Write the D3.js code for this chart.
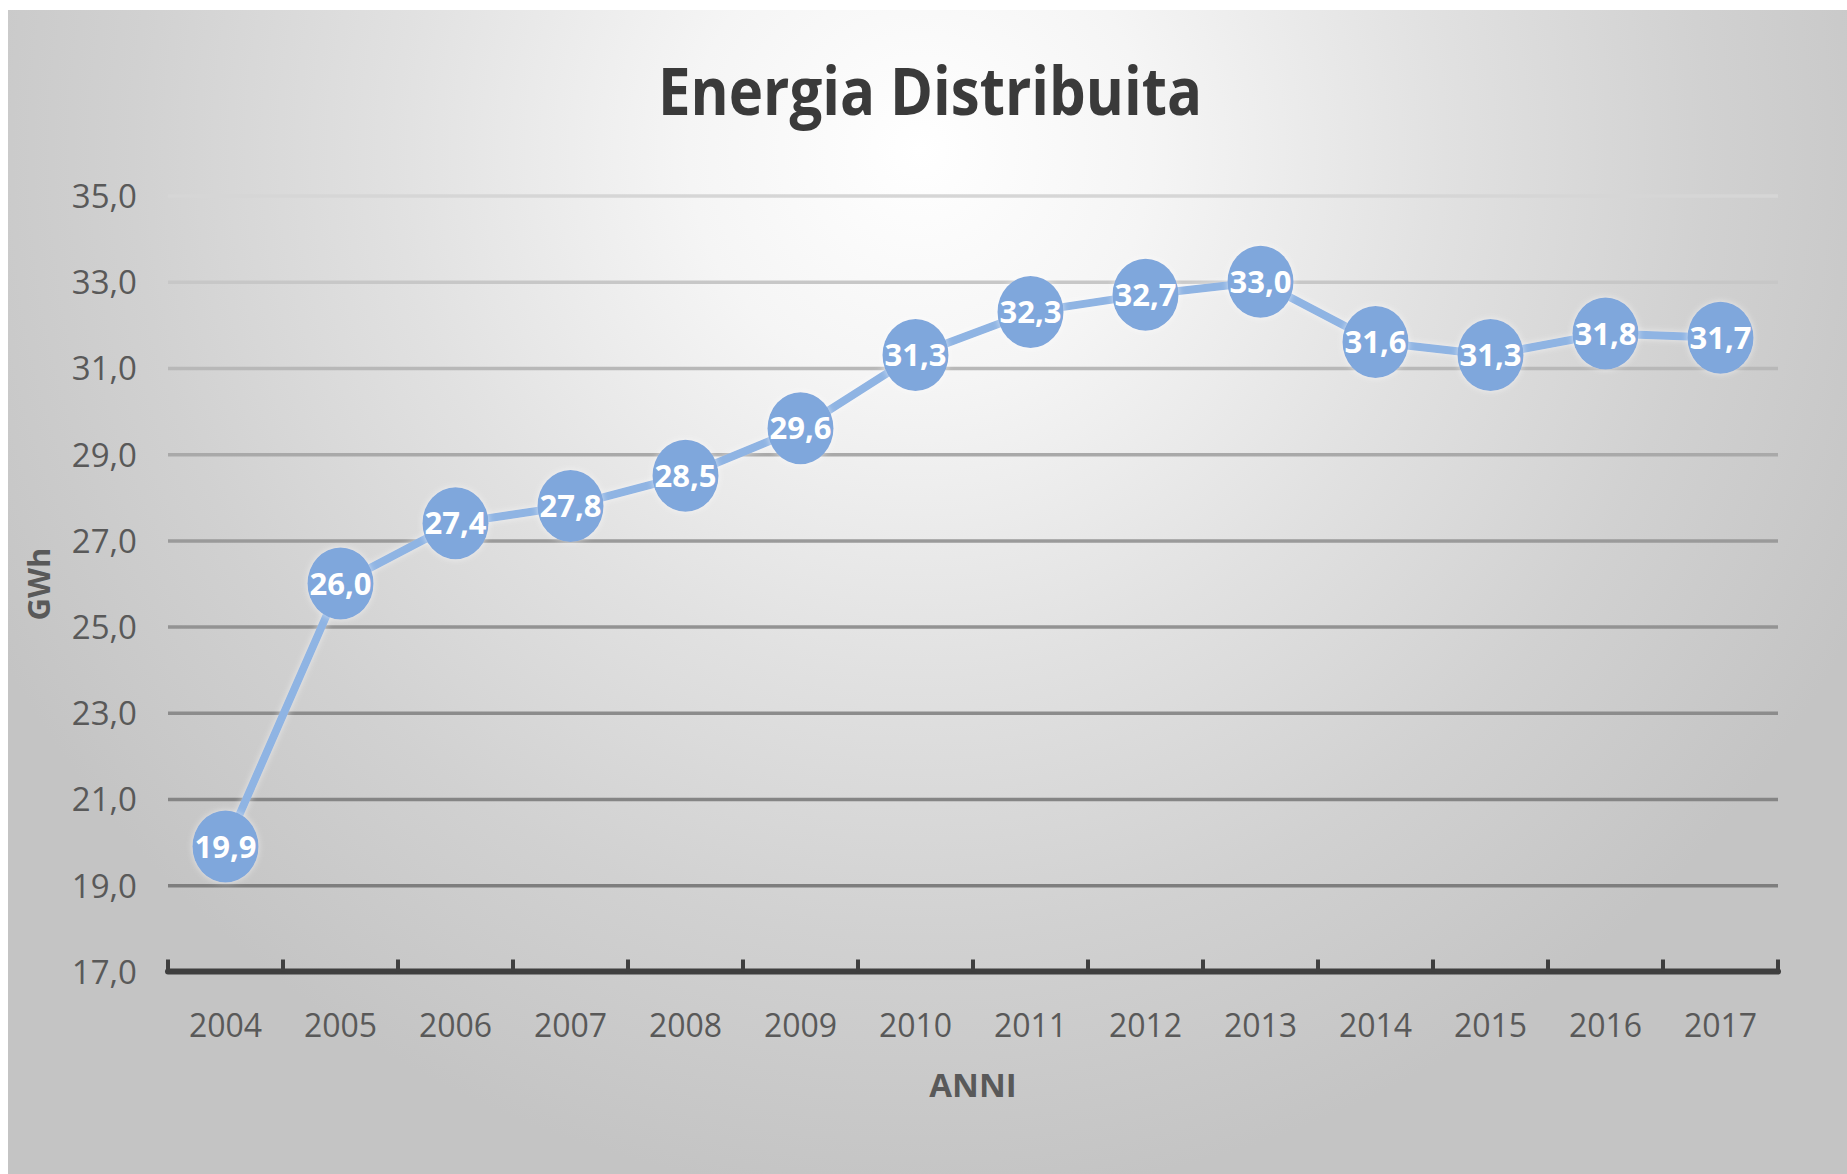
<!DOCTYPE html>
<html>
<head>
<meta charset="utf-8">
<script src="https://cdn.jsdelivr.net/npm/d3@7"></script>
<style>
  html, body { margin: 0; padding: 0; background: #ffffff; }
  svg { display: block; }
</style>
</head>
<body>
<svg id="chart" width="1847" height="1174"></svg>
<script>
// ---- data ----
const years = ["2004","2005","2006","2007","2008","2009","2010","2011","2012","2013","2014","2015","2016","2017"];
const energyGWh = [19.9, 26.0, 27.4, 27.8, 28.5, 29.6, 31.3, 32.3, 32.7, 33.0, 31.6, 31.3, 31.8, 31.7];
const yTicks = [17, 19, 21, 23, 25, 27, 29, 31, 33, 35];
const titleText = "Energia Distribuita";
const xAxisTitle = "ANNI";
const yAxisTitle = "GWh";

// ---- layout ----
const W = 1847, H = 1174;
const plot = { left: 168, right: 1778, top: 195.5, bottom: 971.5 };
const fmt = v => v.toFixed(1).replace(".", ",");

const svg = d3.select("#chart");
const defs = svg.append("defs");

// background radial gradient
const bg = defs.append("radialGradient")
  .attr("id", "bgGrad")
  .attr("gradientUnits", "userSpaceOnUse")
  .attr("cx", 920).attr("cy", 150).attr("r", 1050);
[[0, "#ffffff"], [0.22, "#f5f5f5"], [0.5, "#e1e1e1"], [0.75, "#d1d1d1"], [1, "#c4c4c4"]]
  .forEach(([o, c]) => bg.append("stop").attr("offset", o).attr("stop-color", c));

// soft glow filter for markers
const glow = defs.append("filter").attr("id", "glow")
  .attr("x", "-30%").attr("y", "-30%").attr("width", "160%").attr("height", "160%");
glow.append("feGaussianBlur").attr("in", "SourceAlpha").attr("stdDeviation", 3).attr("result", "blur");
glow.append("feFlood").attr("flood-color", "#ffffff").attr("flood-opacity", 0.55).attr("result", "white");
glow.append("feComposite").attr("in", "white").attr("in2", "blur").attr("operator", "in").attr("result", "glowOut");
const merge = glow.append("feMerge");
merge.append("feMergeNode").attr("in", "glowOut");
merge.append("feMergeNode").attr("in", "SourceGraphic");

// background with white top/left edge
svg.append("rect").attr("x", 0).attr("y", 0).attr("width", W).attr("height", H).attr("fill", "#ffffff");
svg.append("rect").attr("x", 8).attr("y", 10).attr("width", W - 8).attr("height", H - 10).attr("fill", "url(#bgGrad)");

// ---- scales ----
const x = d3.scaleBand().domain(years).range([plot.left, plot.right]).paddingInner(0).paddingOuter(0);
const y = d3.scaleLinear().domain([17, 35]).range([plot.bottom, plot.top]);
const gridColor = d3.scaleLinear().domain([19, 27, 35]).range(["#7e7e7e", "#9a9a9a", "#d6d6d6"]);

// ---- gridlines (via axis) ----
const gridAxis = d3.axisLeft(y).tickValues(yTicks.filter(t => t > 17))
  .tickSize(-(plot.right - plot.left)).tickFormat("");
const gridG = svg.append("g").attr("transform", `translate(${plot.left},0)`).call(gridAxis);
gridG.select(".domain").remove();
gridG.selectAll(".tick line")
  .attr("stroke", d => gridColor(d))
  .attr("stroke-width", 3.5);

// ---- y tick labels ----
const yAxis = d3.axisLeft(y).tickValues(yTicks).tickSize(0).tickPadding(0).tickFormat(fmt);
const yG = svg.append("g").attr("transform", `translate(137,0)`).call(yAxis);
yG.select(".domain").remove();
yG.selectAll(".tick text")
  .attr("fill", "#595959")
  .attr("font-family", "'Open Sans', sans-serif")
  .attr("font-size", 33)
  .attr("dy", "0.36em");

// ---- x axis: baseline + boundary ticks ----
const boundaries = years.map(d => x(d)).concat([x(years[years.length - 1]) + x.bandwidth()]);
const axisG = svg.append("g");
axisG.append("line")
  .attr("x1", plot.left).attr("x2", plot.right)
  .attr("y1", y(17)).attr("y2", y(17))
  .attr("stroke", "#3f3f3f").attr("stroke-width", 6).attr("stroke-linecap", "round");
axisG.selectAll("line.tk").data(boundaries).join("line")
  .attr("class", "tk")
  .attr("x1", d => d).attr("x2", d => d)
  .attr("y1", y(17)).attr("y2", y(17) - 12)
  .attr("stroke", "#3f3f3f").attr("stroke-width", 4);

// x labels
const xAxis = d3.axisBottom(x).tickSize(0).tickPadding(0);
const xG = svg.append("g").attr("transform", `translate(0,1037)`).call(xAxis);
xG.select(".domain").remove();
xG.selectAll(".tick text")
  .attr("fill", "#595959")
  .attr("font-family", "'Open Sans', sans-serif")
  .attr("font-size", 32)
  .attr("dy", 0);

// ---- line ----
const cx = d => x(d) + x.bandwidth() / 2;
const pts = years.map((yr, i) => ({ yr, v: energyGWh[i] }));
const line = d3.line().x(d => cx(d.yr)).y(d => y(d.v));
svg.append("path").datum(pts)
  .attr("d", line)
  .attr("fill", "none")
  .attr("stroke", "#8fb4e3")
  .attr("stroke-width", 8)
  .attr("stroke-linejoin", "round")
  .attr("filter", "url(#glow)");

// ---- markers ----
svg.append("g").selectAll("ellipse").data(pts).join("ellipse")
  .attr("cx", d => cx(d.yr))
  .attr("cy", d => y(d.v))
  .attr("rx", 33).attr("ry", 36)
  .attr("fill", "#7fa7dc")
  .attr("filter", "url(#glow)");

// ---- data labels ----
svg.append("g").selectAll("text").data(pts).join("text")
  .attr("x", d => cx(d.yr))
  .attr("y", d => y(d.v))
  .attr("dy", "0.36em")
  .attr("text-anchor", "middle")
  .attr("fill", "#ffffff")
  .attr("font-family", "'Open Sans', sans-serif")
  .attr("font-weight", 700)
  .attr("font-size", 31)
  .text(d => fmt(d.v));

// ---- titles ----
svg.append("text")
  .attr("x", 930).attr("y", 115)
  .attr("text-anchor", "middle")
  .attr("fill", "#3a3a3a")
  .attr("font-family", "'Open Sans', sans-serif")
  .attr("font-weight", 700)
  .attr("font-size", 67)
  .attr("textLength", 544)
  .attr("lengthAdjust", "spacingAndGlyphs")
  .text(titleText);

svg.append("text")
  .attr("x", (plot.left + plot.right) / 2).attr("y", 1097)
  .attr("text-anchor", "middle")
  .attr("fill", "#595959")
  .attr("font-family", "'Open Sans', sans-serif")
  .attr("font-weight", 700)
  .attr("font-size", 33)
  .text(xAxisTitle);

svg.append("text")
  .attr("transform", "translate(50,584) rotate(-90)")
  .attr("text-anchor", "middle")
  .attr("fill", "#595959")
  .attr("font-family", "'Open Sans', sans-serif")
  .attr("font-weight", 700)
  .attr("font-size", 31)
  .text(yAxisTitle);
</script>
</body>
</html>
